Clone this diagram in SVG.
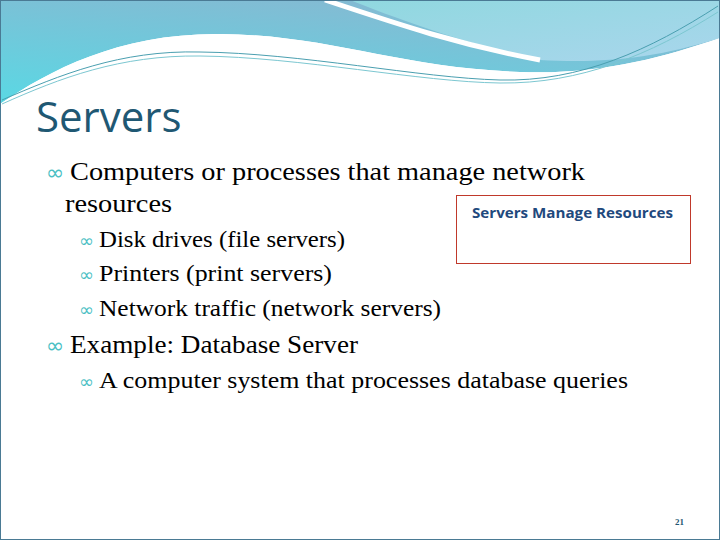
<svg xmlns="http://www.w3.org/2000/svg" width="720" height="540" viewBox="0 0 720 540">
<defs>
<linearGradient id="g1" x1="0" y1="1" x2="0.6" y2="0"><stop offset="0" stop-color="#5ad8e4"/><stop offset="1" stop-color="#86b9d2"/></linearGradient>
<linearGradient id="g2" x1="0" y1="0" x2="1" y2="1"><stop offset="0" stop-color="#8fd8df"/><stop offset="1" stop-color="#a9d6ec"/></linearGradient>
<style>
.t{font-family:"Liberation Serif",serif;fill:#000}
.b{font-family:"DejaVu Sans",sans-serif;fill:#4bbfc4}
</style>
</defs>
<rect width="720" height="540" fill="#fff"/>
<g id="header">
<path d="M0 0H720V38C660 58 600 75 520 72C400 68 330 35 220 34C120 33 50 70 0 104Z" fill="url(#g1)"/>
<path d="M330 0H720V38C650 60 600 63 540 60C470 45 400 20 350 0Z" fill="url(#g2)"/>
<path d="M325 0C400 25 460 45 540 60" stroke="#fff" stroke-width="5" fill="none"/>
<path d="M0 104C50 70 120 33 220 34C330 35 400 68 520 72C600 75 660 58 720 38V540H0Z" fill="#fff"/>
<path d="M2 100C60 75 120 50 200 52C300 53 420 78 500 80C580 82 650 50 718 6" stroke="#4a9fb0" stroke-width="1" fill="none"/>
<path d="M2 104C60 78 120 55 200 56C300 57 420 82 500 83C580 84 650 55 718 12" stroke="#7cc7d1" stroke-width="1" fill="none"/>
<rect x="0.5" y="0.5" width="719" height="539" fill="none" stroke="#4a7a94" stroke-width="1"/>
</g>
<text x="36" y="132" font-family="'Open Sans','Liberation Sans',sans-serif" font-size="42" fill="#1f5873">Servers</text>
<g id="bullets">
<text x="46" y="180" class="b" font-size="22">∞</text>
<text x="70" y="180" class="t" font-size="25" textLength="515" lengthAdjust="spacingAndGlyphs">Computers or processes that manage network</text>
<text x="65" y="212" class="t" font-size="25" textLength="107" lengthAdjust="spacingAndGlyphs">resources</text>
<text x="79" y="247" class="b" font-size="18">∞</text>
<text x="99" y="247" class="t" font-size="23" textLength="246" lengthAdjust="spacingAndGlyphs">Disk drives (file servers)</text>
<text x="79" y="281" class="b" font-size="18">∞</text>
<text x="99" y="281" class="t" font-size="23" textLength="233" lengthAdjust="spacingAndGlyphs">Printers (print servers)</text>
<text x="79" y="316" class="b" font-size="18">∞</text>
<text x="99" y="316" class="t" font-size="23" textLength="342" lengthAdjust="spacingAndGlyphs">Network traffic (network servers)</text>
<text x="46" y="353" class="b" font-size="22">∞</text>
<text x="70" y="353" class="t" font-size="25" textLength="288" lengthAdjust="spacingAndGlyphs">Example: Database Server</text>
<text x="79" y="388" class="b" font-size="18">∞</text>
<text x="99" y="388" class="t" font-size="23" textLength="529" lengthAdjust="spacingAndGlyphs">A computer system that processes database queries</text>
</g>
<g id="box">
<rect x="456.5" y="195.5" width="234" height="68" fill="#fff" stroke="#c0392b" stroke-width="1"/>
<text x="472" y="218" font-family="'Open Sans','Liberation Sans',sans-serif" font-weight="bold" font-size="14" fill="#1f497d" textLength="201" lengthAdjust="spacingAndGlyphs">Servers Manage Resources</text>
</g>
<text x="675" y="525" font-family="'Liberation Serif',serif" font-weight="bold" font-size="9" fill="#1f5873">21</text>
</svg>
